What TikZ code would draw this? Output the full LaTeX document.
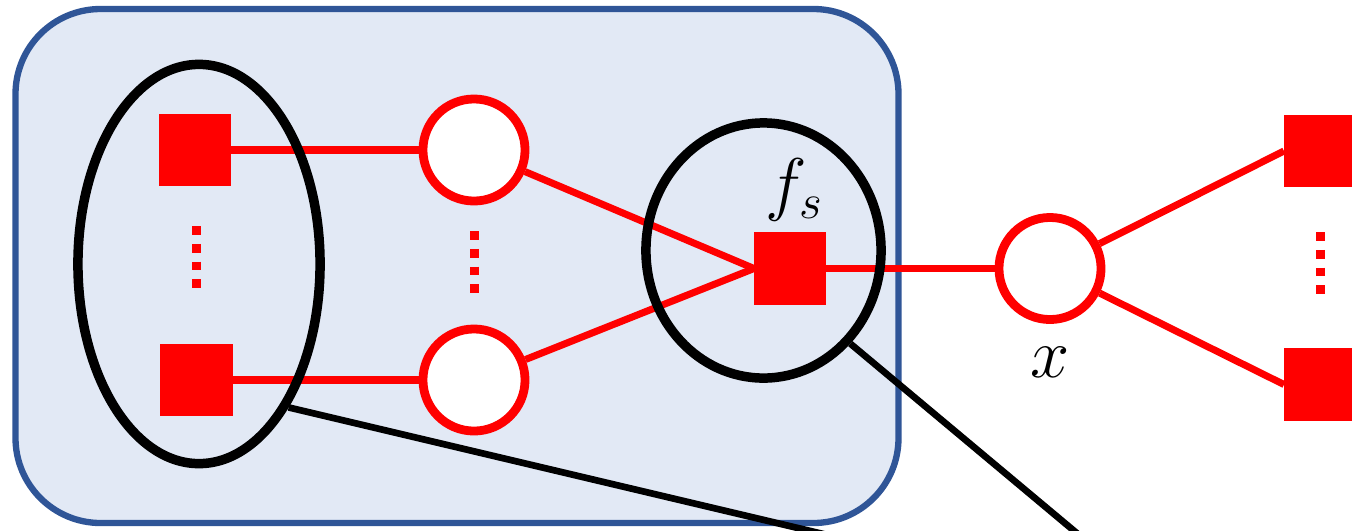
\documentclass[tikz,border=0pt]{standalone}
\usepackage{fix-cm}
\usetikzlibrary{shapes.geometric}
\definecolor{panelfill}{RGB}{226,233,245}
\definecolor{panelline}{RGB}{47,85,151}
\tikzset{
  panel/.style={fill=panelfill, draw=panelline, line width=1.8pt, rounded corners=0.85cm},
  factor/.style={rectangle, fill=red, draw=none, minimum size=0.72cm, inner sep=0pt, outer sep=0pt},
  varnode/.style={circle, draw=red, line width=2.5pt, fill=white, minimum size=1.02cm, inner sep=0pt},
  edge/.style={draw=red, line width=2pt},
  ring/.style={ellipse, draw=black, line width=2.7pt, inner sep=0pt},
  pointer/.style={draw=black, line width=1.9pt},
  vdotsline/.style={draw=red, line width=0.09cm, dash pattern=on 0.088cm off 0.09cm},
  lbl/.style={font=\fontsize{20}{24}\selectfont, inner sep=0pt},
}
\begin{document}
\begin{tikzpicture}[x=0.01cm,y=-0.01cm]
  \useasboundingbox (0,0) rectangle (1352,530);
  \clip (0,0) rectangle (1352,530);

  % subgraph panel
  \draw[panel] (15.5,9) rectangle (898.5,523);

  % factor and variable nodes
  \node[factor] (s1) at (195,150) {};
  \node[factor] (s2) at (196.5,380) {};
  \node[varnode] (c1) at (474,150) {};
  \node[varnode] (c2) at (474,380) {};
  \node[factor] (fs) at (790,268.5) {};
  \node[varnode] (x) at (1050,268.5) {};
  \node[factor] (r1) at (1320,151) {};
  \node[factor] (r2) at (1320,384.5) {};

  % vertical ellipsis marks
  \draw[vdotsline] (196.5,226) -- (196.5,288);
  \draw[vdotsline] (474,231) -- (474,293);
  \draw[vdotsline] (1320,232) -- (1320,294);

  % edges
  \draw[edge] (s1) -- (c1);
  \draw[edge] (s2) -- (c2);
  \draw[edge] (c1) -- (fs.west);
  \draw[edge] (c2) -- (fs.west);
  \draw[edge] (fs) -- (x);
  \draw[edge] (x) -- (r1.west);
  \draw[edge] (x) -- (r2.west);

  % labels
  \node[lbl] (fsl) at (795,190) {$f_s$};
  \node[lbl] (xl) at (1050,362) {$x$};

  % grouping rings
  \node[ring, minimum width=2.42cm, minimum height=3.99cm] (grp) at (199,264) {};
  \node[ring, minimum width=2.35cm, minimum height=2.55cm] (fring) at (763.5,250.5) {};

  % zoom pointers
  \coordinate (p1) at (857,542);
  \coordinate (p2) at (1091,545);
  \draw[pointer] (grp.-58.4) -- (p1);
  \draw[pointer] (fring.-47.3) -- (p2);
\end{tikzpicture}
\end{document}
